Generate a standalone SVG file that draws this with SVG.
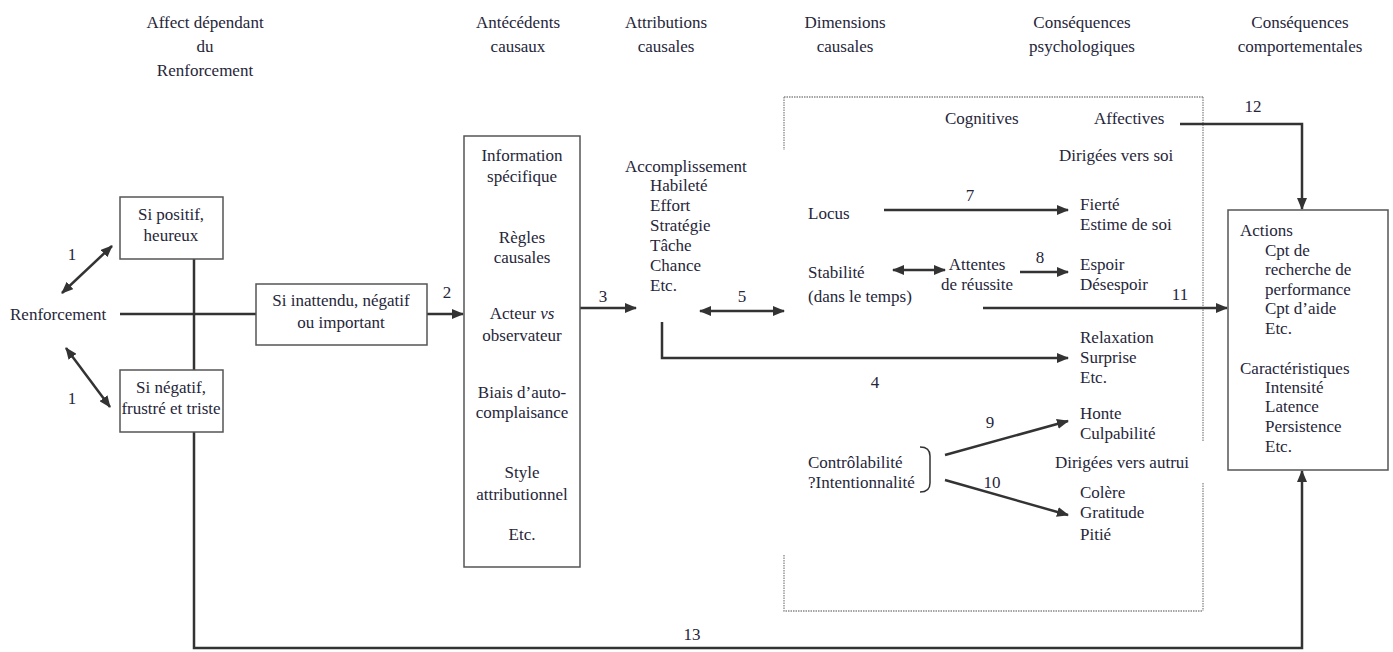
<svg xmlns="http://www.w3.org/2000/svg" width="1393" height="652" viewBox="0 0 1393 652">
<defs>
<marker id="ah" viewBox="0 0 12 10" refX="11" refY="5" markerWidth="12" markerHeight="10" markerUnits="userSpaceOnUse" orient="auto-start-reverse">
<path d="M0,0 L12,5 L0,10 z" fill="#333"/>
</marker>
<style>
text{font-family:"Liberation Serif","Times New Roman",serif;font-size:17px;fill:#26263a}
.c{text-anchor:middle}
.box{fill:none;stroke:#555;stroke-width:1.5}
.ln{fill:none;stroke:#333;stroke-width:2.5}
.ar{fill:none;stroke:#333;stroke-width:2.5;marker-end:url(#ah)}
.da{fill:none;stroke:#333;stroke-width:2.5;marker-end:url(#ah);marker-start:url(#ah)}
.dot{fill:none;stroke:#888;stroke-width:1.3;stroke-dasharray:1.5 1}
</style>
</defs>
<rect width="1393" height="652" fill="#fff"/>
<g id="titles">
<text class="c" x="205" y="28">Affect dépendant</text>
<text class="c" x="205" y="52">du</text>
<text class="c" x="205" y="76">Renforcement</text>
<text class="c" x="518" y="28">Antécédents</text>
<text class="c" x="518" y="52">causaux</text>
<text class="c" x="666" y="28">Attributions</text>
<text class="c" x="666" y="52">causales</text>
<text class="c" x="845" y="28">Dimensions</text>
<text class="c" x="845" y="52">causales</text>
<text class="c" x="1082" y="28">Conséquences</text>
<text class="c" x="1082" y="52">psychologiques</text>
<text class="c" x="1300" y="28">Conséquences</text>
<text class="c" x="1300" y="52">comportementales</text>
</g>

<g id="dotted-frame">
<path class="dot" d="M784,97 L1203,97 M784,97 L784,150 M784,555 L784,611 L1203,611 M1203,97 L1203,442 M1203,483 L1203,611"/>
</g>

<g id="connectors">
<path class="ln" d="M120,314 L256,314"/>
<path class="ln" d="M194,259 L194,370"/>
<path class="ar" d="M194,432 L194,648 L1302,648 L1302,471"/>
<path class="da" d="M62,293 L112,246"/>
<path class="da" d="M66,348 L110,407"/>
<path class="ar" d="M427,314 L463,314"/>
<path class="ar" d="M580,308 L636,308"/>
<path class="da" d="M700,311 L784,311"/>
<path class="ar" d="M662,322 L662,358 L1068,358"/>
<path class="ar" d="M884,210 L1068,210"/>
<path class="da" stroke-width="2" d="M893,270 L945,270"/>
<path class="ar" d="M1020,272 L1068,272"/>
<path class="ar" d="M983,308 L1227,308"/>
<path class="ar" d="M1180,124 L1302,124 L1302,209"/>
<path class="ar" d="M945,455 L1068,421"/>
<path class="ar" d="M945,480 L1068,515"/>
<path fill="none" stroke="#333" stroke-width="1.5" d="M920,447 Q930,447 930,456 L930,483 Q930,492 920,492"/>
<text x="72" y="260" class="c">1</text>
<text x="72" y="404" class="c">1</text>
<text x="447" y="298" class="c">2</text>
<text x="603" y="302" class="c">3</text>
<text x="742" y="302" class="c">5</text>
<text x="875" y="388" class="c">4</text>
<text x="970" y="201" class="c">7</text>
<text x="1040" y="263" class="c">8</text>
<text x="990" y="428" class="c">9</text>
<text x="992" y="488" class="c">10</text>
<text x="1180" y="300" class="c">11</text>
<text x="1253" y="112" class="c">12</text>
<text x="692" y="640" class="c">13</text>
</g>

<g id="renforcement">
<text x="10" y="320">Renforcement</text>
</g>

<g id="si-positif">
<rect class="box" x="120" y="197" width="103" height="62"/>
<text class="c" x="171" y="220">Si positif,</text>
<text class="c" x="171" y="241">heureux</text>
</g>

<g id="si-negatif">
<rect class="box" x="120" y="370" width="103" height="62"/>
<text class="c" x="171" y="393">Si négatif,</text>
<text class="c" x="171" y="414">frustré et triste</text>
</g>

<g id="si-inattendu">
<rect class="box" x="256" y="284" width="171" height="61"/>
<text class="c" x="341" y="306">Si inattendu, négatif</text>
<text class="c" x="341" y="328">ou important</text>
</g>

<g id="antecedents">
<rect class="box" x="464" y="136" width="116" height="431"/>
<text class="c" x="522" y="161">Information</text>
<text class="c" x="522" y="182">spécifique</text>
<text class="c" x="522" y="243">Règles</text>
<text class="c" x="522" y="263">causales</text>
<text class="c" x="522" y="319">Acteur <tspan font-style="italic">vs</tspan></text>
<text class="c" x="522" y="341">observateur</text>
<text class="c" x="522" y="398">Biais d’auto-</text>
<text class="c" x="522" y="418">complaisance</text>
<text class="c" x="522" y="478">Style</text>
<text class="c" x="522" y="500">attributionnel</text>
<text class="c" x="522" y="540">Etc.</text>
</g>

<g id="attributions">
<text x="625" y="172">Accomplissement</text>
<text x="650" y="191">Habileté</text>
<text x="650" y="211">Effort</text>
<text x="650" y="231">Stratégie</text>
<text x="650" y="251">Tâche</text>
<text x="650" y="271">Chance</text>
<text x="650" y="291">Etc.</text>
</g>

<g id="headers-psy">
<text x="945" y="124">Cognitives</text>
<text x="1094" y="124">Affectives</text>
<text x="1059" y="161">Dirigées vers soi</text>
</g>

<g id="locus"><text x="808" y="219">Locus</text></g>
<g id="fierte">
<text x="1080" y="210">Fierté</text>
<text x="1080" y="230">Estime de soi</text>
</g>
<g id="stabilite">
<text x="808" y="278">Stabilité</text>
<text x="808" y="302">(dans le temps)</text>
</g>
<g id="attentes">
<text class="c" x="977" y="270">Attentes</text>
<text class="c" x="977" y="290">de réussite</text>
</g>
<g id="espoir">
<text x="1080" y="270">Espoir</text>
<text x="1080" y="290">Désespoir</text>
</g>
<g id="relaxation">
<text x="1080" y="343">Relaxation</text>
<text x="1080" y="363">Surprise</text>
<text x="1080" y="383">Etc.</text>
</g>
<g id="honte">
<text x="1080" y="419">Honte</text>
<text x="1080" y="439">Culpabilité</text>
</g>
<g id="controlabilite">
<text x="808" y="468">Contrôlabilité</text>
<text x="808" y="488">?Intentionnalité</text>
</g>
<g id="autrui"><text class="c" x="1122" y="468">Dirigées vers autrui</text></g>
<g id="colere">
<text x="1080" y="498">Colère</text>
<text x="1080" y="518">Gratitude</text>
<text x="1080" y="540">Pitié</text>
</g>

<g id="comportement">
<rect class="box" x="1228" y="210" width="160" height="260"/>
<text x="1240" y="236">Actions</text>
<text x="1265" y="256">Cpt de</text>
<text x="1265" y="275">recherche de</text>
<text x="1265" y="295">performance</text>
<text x="1265" y="314">Cpt d’aide</text>
<text x="1265" y="334">Etc.</text>
<text x="1240" y="374">Caractéristiques</text>
<text x="1265" y="393">Intensité</text>
<text x="1265" y="412">Latence</text>
<text x="1265" y="432">Persistence</text>
<text x="1265" y="452">Etc.</text>
</g>
</svg>
